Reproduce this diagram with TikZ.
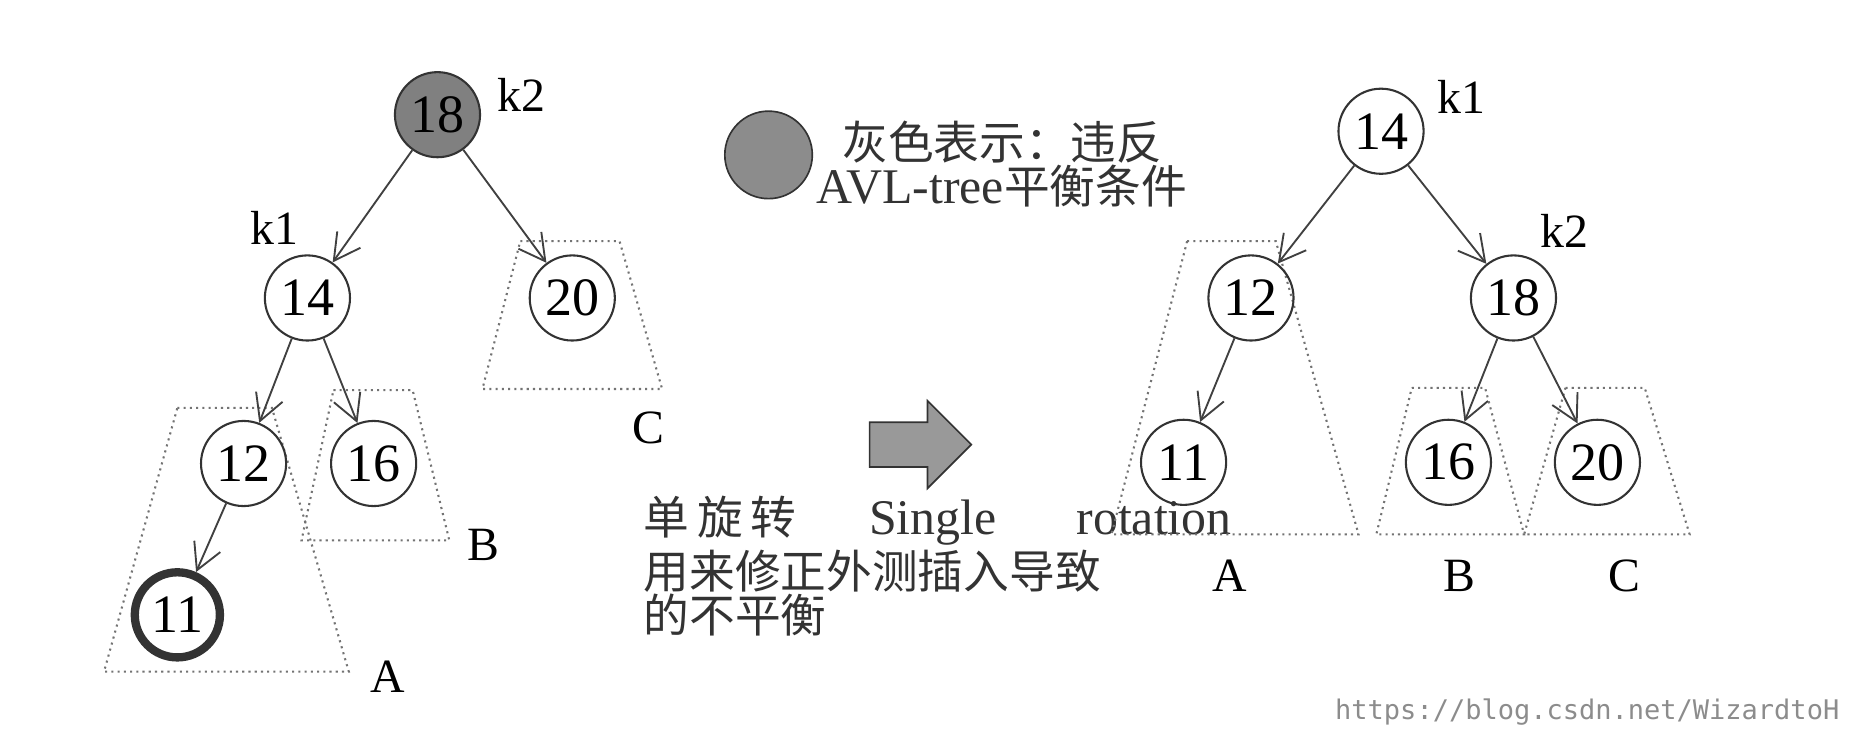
\documentclass[tikz,border=0pt]{standalone}
\usepackage{fontspec}
\setmainfont{Liberation Serif}
\newfontfamily\cjk{Noto Sans CJK SC}
\newfontfamily\wmono{DejaVu Sans Mono}
\usetikzlibrary{arrows.meta,shapes.arrows}
\begin{document}
\begin{tikzpicture}[x=0.1mm,y=-0.1mm,
  nd/.style={circle,draw=black!80,line width=0.5pt,minimum size=7.2mm,inner sep=0pt,font=\fontsize{13}{13}\selectfont},
  lbl/.style={font=\fontsize{11.5}{12}\selectfont},
  edge/.style={draw=black!75,line width=0.45pt,-{Straight Barb[length=2.2mm,width=2.4mm]}},
  sub/.style={draw=black!55,densely dotted,line width=0.5pt},
  cn/.style={font=\cjk\fontsize{11}{13}\selectfont,text=black!80}]
\useasboundingbox (0,0) rectangle (1568,617);
% subtree trapezoids (left)
\draw[sub] (150,345) -- (230,345) -- (295,568) -- (88,568) -- cycle;
\draw[sub] (282,330) -- (349,330) -- (380,457) -- (255,457) -- cycle;
\draw[sub] (440,204) -- (524,204) -- (560,329) -- (408,329) -- cycle;
% left tree
\node[nd,fill=black!50] (a18) at (370,97) {18};
\node[nd] (a14) at (260,252) {14};
\node[nd] (a20) at (484,252) {20};
\node[nd] (a12) at (206,392) {12};
\node[nd] (a16) at (316,392) {16};
\node[nd,line width=2pt] (a11) at (150,520) {11};
\node[lbl] (lk2) at (441,80) {k2};
\node[lbl] (lk1) at (232,193) {k1};
\node[lbl] (lA) at (328,572) {A};
\node[lbl] (lB) at (409,461) {B};
\node[lbl] (lC) at (548,362) {C};
\draw[edge] (a18) -- (a14);
\draw[edge] (a18) -- (a20);
\draw[edge] (a14) -- (a12);
\draw[edge] (a14) -- (a16);
\draw[edge] (a12) -- (a11);
% legend
\node[circle,draw=black!80,fill=black!45,minimum width=7.4mm,inner sep=0pt] (leg) at (650,131) {};
\node[cn,anchor=west] (lt1) at (700,120) {灰色表示：违反};
\node[cn,anchor=west,inner sep=0pt] (lt2) at (690,157) {{\rmfamily\fontsize{12}{13}\selectfont AVL-tree}平衡条件};
% block arrow
\node[single arrow,draw=black!80,fill=black!40,minimum height=8.6mm,minimum width=7.4mm,single arrow head extend=1.6mm,inner sep=1.6mm] (barr) at (769,376) {};
% explanation
\node[cn,anchor=west] (ex1) at (532,440) {单\,旋\,转\hspace{1.6em}{\rmfamily\fontsize{12}{13}\selectfont Single\hspace{1.6em}rotation}};
\node[cn,anchor=west] (ex2) at (532,483) {用来修正外测插入导致};
\node[cn,anchor=west] (ex3) at (532,520) {的不平衡};
% right trapezoids
\draw[sub] (1004,204) -- (1079,204) -- (1149,452) -- (940,452) -- cycle;
\draw[sub] (1194,328) -- (1256,328) -- (1289,452) -- (1164,452) -- cycle;
\draw[sub] (1324,328) -- (1391,328) -- (1429,452) -- (1289,452) -- cycle;
% right tree
\node[nd] (b14) at (1168,111) {14};
\node[nd] (b12) at (1058,252) {12};
\node[nd] (b18) at (1280,252) {18};
\node[nd] (b11) at (1001,391) {11};
\node[nd] (b16) at (1225,391) {16};
\node[nd] (b20) at (1351,391) {20};
\node[lbl] (rk1) at (1236,82) {k1};
\node[lbl] (rk2) at (1323,195) {k2};
\node[lbl] (rA) at (1040,487) {A};
\node[lbl] (rB) at (1234,487) {B};
\node[lbl] (rC) at (1374,487) {C};
\draw[edge] (b14) -- (b12);
\draw[edge] (b14) -- (b18);
\draw[edge] (b12) -- (b11);
\draw[edge] (b18) -- (b16);
\draw[edge] (b18) -- (b20);
\node[font=\wmono\fontsize{6.5}{7}\selectfont,text=black!45,anchor=east] (wm) at (1568,602) {https://blog.csdn.net/WizardtoH};
\end{tikzpicture}
\end{document}
